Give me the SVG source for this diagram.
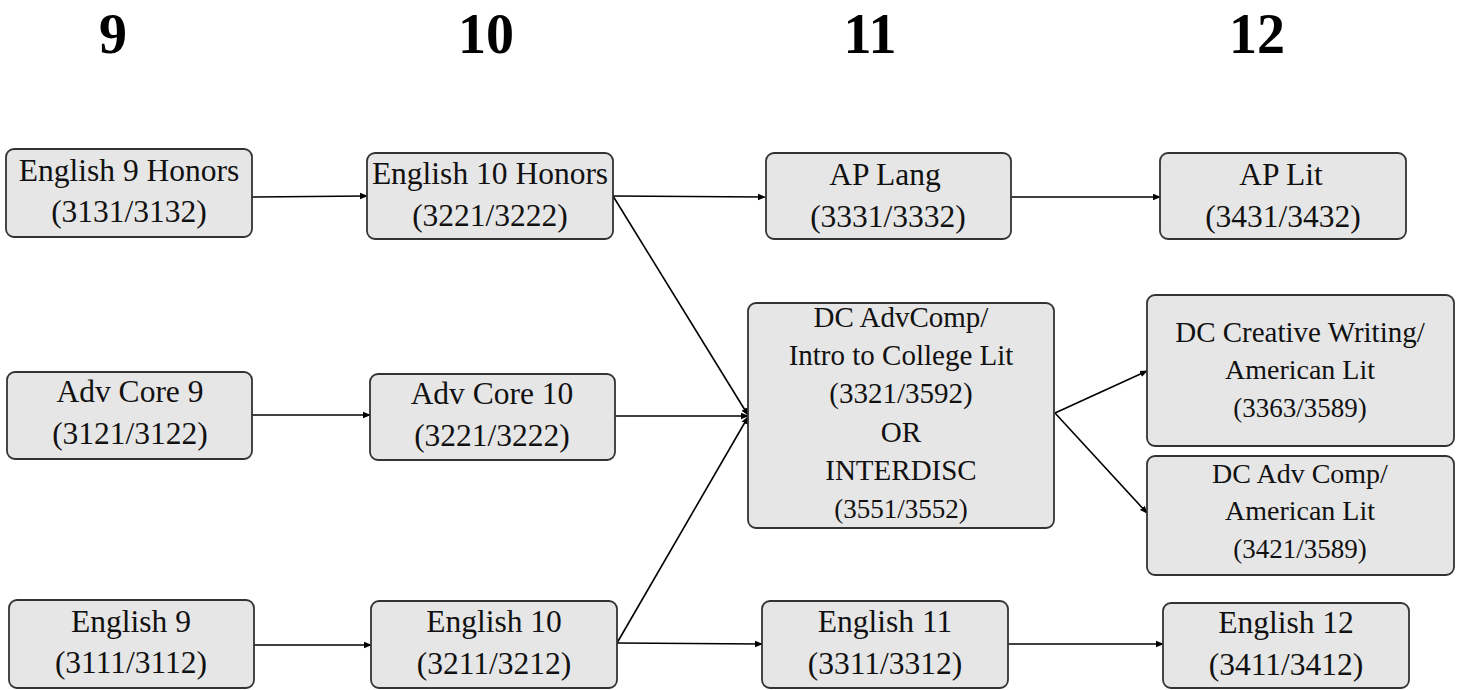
<svg xmlns="http://www.w3.org/2000/svg" width="1459" height="690" viewBox="0 0 1459 690">
<style>
.box{fill:#e6e6e6;stroke:#333;stroke-width:1.8}
.t{font-family:"Liberation Serif","Times New Roman",serif;font-size:29px;fill:#111;text-anchor:middle}
.t2{font-family:"Liberation Serif","Times New Roman",serif;font-size:31.5px;fill:#111;text-anchor:middle}
.h{font-family:"Liberation Serif","Times New Roman",serif;font-size:56px;font-weight:bold;fill:#000;text-anchor:middle}
.c{stroke:#000;stroke-width:1.6;fill:none;marker-end:url(#ah)}
</style>
<defs>
<marker id="ah" markerWidth="8" markerHeight="8" refX="7" refY="4" orient="auto" markerUnits="userSpaceOnUse">
<path d="M0,0.8 L8,4 L0,7.2 Z" fill="#000"/>
</marker>
</defs>
<rect width="1459" height="690" fill="#fff"/>
<g id="headers">
<text class="h" x="113" y="53">9</text>
<text class="h" x="486" y="53">10</text>
<text class="h" x="870" y="53">11</text>
<text class="h" x="1257" y="53">12</text>
</g>
<g id="connectors">
<line class="c" x1="252" y1="197" x2="367" y2="196"/>
<line class="c" x1="613" y1="196" x2="765" y2="197"/>
<line class="c" x1="1011" y1="197" x2="1160" y2="197"/>
<line class="c" x1="613" y1="196" x2="748" y2="415"/>
<line class="c" x1="252" y1="415" x2="370" y2="415"/>
<line class="c" x1="615" y1="416" x2="748" y2="416"/>
<line class="c" x1="617" y1="643" x2="748" y2="417"/>
<line class="c" x1="254" y1="645" x2="371" y2="645"/>
<line class="c" x1="617" y1="643" x2="762" y2="644"/>
<line class="c" x1="1008" y1="644" x2="1163" y2="644"/>
<line class="c" x1="1055" y1="413" x2="1147" y2="371"/>
<line class="c" x1="1055" y1="413" x2="1147" y2="513"/>
</g>
<g id="eng9h">
<rect class="box" x="6" y="149" width="246" height="88" rx="8"/>
<text class="t2" x="129" y="181">English 9 Honors</text>
<text class="t2" x="129" y="222">(3131/3132)</text>
</g>
<g id="eng10h">
<rect class="box" x="367" y="153" width="246" height="86" rx="8"/>
<text class="t2" x="490" y="184">English 10 Honors</text>
<text class="t2" x="490" y="226">(3221/3222)</text>
</g>
<g id="aplang">
<rect class="box" x="766" y="153" width="245" height="86" rx="8"/>
<text class="t2" x="885" y="185">AP Lang</text>
<text class="t2" x="888" y="227">(3331/3332)</text>
</g>
<g id="aplit">
<rect class="box" x="1160" y="153" width="246" height="86" rx="8"/>
<text class="t2" x="1281" y="185">AP Lit</text>
<text class="t2" x="1283" y="227">(3431/3432)</text>
</g>
<g id="advcore9">
<rect class="box" x="7" y="372" width="245" height="87" rx="8"/>
<text class="t2" x="130" y="402">Adv Core 9</text>
<text class="t2" x="130" y="444">(3121/3122)</text>
</g>
<g id="advcore10">
<rect class="box" x="370" y="374" width="245" height="86" rx="8"/>
<text class="t2" x="492" y="404">Adv Core 10</text>
<text class="t2" x="492" y="446">(3221/3222)</text>
</g>
<g id="dcadvcomp">
<rect class="box" x="748" y="303" width="306" height="225" rx="8"/>
<text class="t" x="901" y="327">DC AdvComp/</text>
<text class="t" x="901" y="365">Intro to College Lit</text>
<text class="t" x="901" y="403">(3321/3592)</text>
<text class="t" x="901" y="442">OR</text>
<text class="t" x="901" y="480">INTERDISC</text>
<text class="t" x="901" y="518" style="font-size:27px">(3551/3552)</text>
</g>
<g id="dccreative">
<rect class="box" x="1147" y="295" width="307" height="151" rx="8"/>
<text class="t" x="1300" y="342">DC Creative Writing/</text>
<text class="t" x="1300" y="379" style="font-size:28px">American Lit</text>
<text class="t" x="1300" y="417" style="font-size:27px">(3363/3589)</text>
</g>
<g id="dcadvcomp2">
<rect class="box" x="1147" y="456" width="307" height="119" rx="8"/>
<text class="t" x="1300" y="483" style="font-size:28px">DC Adv Comp/</text>
<text class="t" x="1300" y="520" style="font-size:28px">American Lit</text>
<text class="t" x="1300" y="558" style="font-size:27px">(3421/3589)</text>
</g>
<g id="eng9">
<rect class="box" x="9" y="600" width="245" height="88" rx="8"/>
<text class="t2" x="131" y="632">English 9</text>
<text class="t2" x="131" y="673">(3111/3112)</text>
</g>
<g id="eng10">
<rect class="box" x="371" y="601" width="246" height="87" rx="8"/>
<text class="t2" x="494" y="632">English 10</text>
<text class="t2" x="494" y="674">(3211/3212)</text>
</g>
<g id="eng11">
<rect class="box" x="762" y="601" width="246" height="87" rx="8"/>
<text class="t2" x="885" y="632">English 11</text>
<text class="t2" x="885" y="674">(3311/3312)</text>
</g>
<g id="eng12">
<rect class="box" x="1163" y="603" width="246" height="85" rx="8"/>
<text class="t2" x="1286" y="633">English 12</text>
<text class="t2" x="1286" y="675">(3411/3412)</text>
</g>
</svg>
